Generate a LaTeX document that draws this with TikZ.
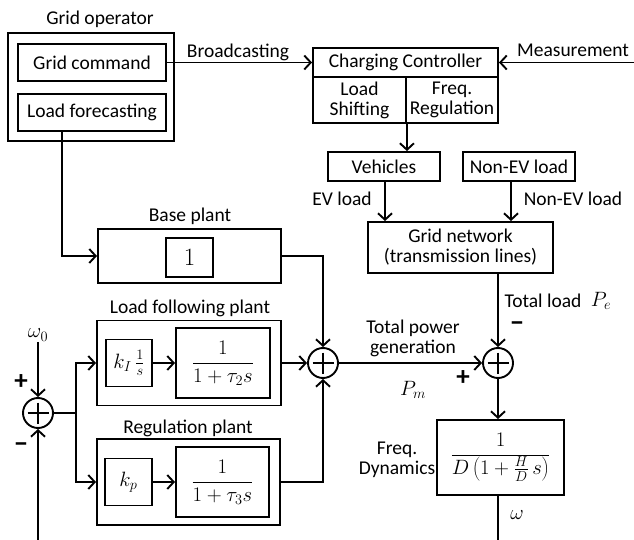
\documentclass[tikz,border=0pt]{standalone}
\usepackage[no-math]{fontspec}
\setmainfont{Carlito}
\usetikzlibrary{arrows.meta}
\newcommand\txtf{\fontsize{19.5}{20}\selectfont}
\newcommand\mthf{\fontsize{21}{24}\selectfont}
\newcommand\bigf{\fontsize{25}{28}\selectfont}
\begin{document}
\begin{tikzpicture}[x=1pt,y=-1pt,line width=1.9pt,
  >={Straight Barb[length=6.5pt,width=14pt]},
  box/.style={draw,inner sep=0pt,align=center,font=\txtf},
  lbl/.style={inner sep=0pt,align=center,font=\txtf},
  mlbl/.style={inner sep=0pt,font=\mthf},
  sgn/.style={inner sep=0pt,font=\fontsize{27}{27}\selectfont\bfseries},
  sumc/.style={draw,circle,minimum size=30pt,inner sep=0pt}]
\useasboundingbox (0,0) rectangle (634,540);
% grid operator
\node[lbl] (gopl) at (100,19) {Grid operator};
\node[box,minimum width=166pt,minimum height=108pt] (gop) at (91,87) {};
\node[box,minimum width=148pt,minimum height=37pt] (gcmd) at (92,62.5) {Grid command};
\node[box,minimum width=148pt,minimum height=37pt] (lfc) at (92,112.5) {Load forecasting};
% charging controller
\node[box,minimum width=185pt,minimum height=29pt] (cctop) at (405.5,62.5) {Charging Controller};
\node[box,minimum width=93pt,minimum height=46pt] (ccl) at (359.5,100) {Load\\Shifting};
\node[box,minimum width=92pt,minimum height=46pt] (ccr) at (452,100) {Freq.\\Regulation};
\node[lbl] (bc) at (238,52) {Broadcasting};
\node[lbl] (ms) at (573,50) {Measurement};
\coordinate (meas) at (634,62.5);
\draw[->] (gcmd.east) -- (cctop.west);
\draw[->] (meas) -- (cctop.east);
% vehicles
\node[box,minimum width=112pt,minimum height=29pt] (veh) at (384,166.5) {Vehicles};
\node[box,minimum width=112pt,minimum height=29pt] (nev) at (519,166.5) {Non-EV load};
\coordinate (ccout) at (ccl.south east);
\draw[->] (ccout) -- (ccout |- veh.north);
\node[box,minimum width=185pt,minimum height=51pt] (gn) at (460.5,247.5) {Grid network\\(transmission lines)};
\coordinate (vehout) at (385,181);
\coordinate (nevout) at (511,181);
\draw[->] (vehout) -- (vehout |- gn.north);
\draw[->] (nevout) -- (nevout |- gn.north);
\node[lbl] (evl) at (342,199) {EV load};
\node[lbl] (nevl) at (573,199) {Non-EV load};
% sums
\node[sumc] (s1) at (323,363) {};
\node[sumc] (s2) at (498,363) {};
\node[sumc] (s0) at (38,413) {};
\foreach \s in {s0,s1,s2}{
  \draw (\s.center) ++(-10.5,0) -- ++(21,0);
  \draw (\s.center) ++(0,-10.5) -- ++(0,21);
}
\draw[->] (s2 |- gn.south) -- (s2.north);
\node[lbl] (tl) at (543,301) {Total load};
\node[mlbl] (pe) at (601,301) {$P_e$};
\node[sgn] (mn2) at (517,327) {\textminus};
\draw[->] (s1.east) -- (s2.west);
\node[lbl] (tpg) at (413,338) {Total power\\generation};
\node[mlbl] (pm) at (413,390) {$P_m$};
\node[sgn] (pl2) at (463,378) {+};
% freq dynamics
\node[box,minimum width=127pt,minimum height=75pt,font=\mthf] (fd) at (500.5,457.5) {$\displaystyle\frac{1}{D\left(1+\frac{H}{D}\,s\right)}$};
\node[lbl] (fdl) at (397,460) {Freq.\\Dynamics};
\draw[->] (s2.south) -- (s2 |- fd.north);
\coordinate (wend) at (498,540);
\draw (s2 |- fd.south) -- (wend);
\node[mlbl] (om) at (517,515) {$\omega$};
% base plant
\node[lbl] (bpl) at (190,216) {Base plant};
\node[box,minimum width=183pt,minimum height=54pt] (base) at (189.5,256) {};
\node[box,minimum width=47pt,minimum height=39pt,font=\bigf] (one) at (189.5,257.5) {$1$};
\coordinate (lfcout) at (62,131);
\draw[->] (lfcout) |- (base.west);
\draw[->] (base.east) -| (s1.north);
% load following plant
\node[lbl] (lfl) at (190,308) {Load following plant};
\node[box,minimum width=184pt,minimum height=85pt] (lf) at (189,363) {};
\node[box,minimum width=46pt,minimum height=47pt,font=\mthf] (ki) at (129,363) {$k_I\,\frac{1}{s}$};
\node[box,minimum width=94pt,minimum height=70pt,font=\mthf] (f2) at (223,363) {$\displaystyle\frac{1}{1+\tau_2 s}$};
\draw[->] (ki.east) -- (f2.west);
\draw[->] (lf.east) -- (s1.west);
% regulation plant
\node[lbl] (rpl) at (188,428) {Regulation plant};
\node[box,minimum width=183pt,minimum height=86pt] (reg) at (188.5,482) {};
\node[box,minimum width=47pt,minimum height=47pt,font=\mthf] (kp) at (128.5,482) {$k_p$};
\node[box,minimum width=93pt,minimum height=70pt,font=\mthf] (f3) at (222.5,482) {$\displaystyle\frac{1}{1+\tau_3 s}$};
\draw[->] (kp.east) -- (f3.west);
\draw[->] (reg.east) -| (s1.south);
% left loop
\node[mlbl] (w0) at (38,335) {$\omega_0$};
\draw[->] (w0.south) -- (s0.north);
\coordinate (fb) at (38,540);
\draw[->] (fb) -- (s0.south);
\node[sgn] (pl0) at (21,382) {+};
\node[sgn] (mn0) at (21,448) {\textminus};
\coordinate (br) at (76,413);
\draw (s0.east) -- (br);
\draw[->] (br) |- (lf.west);
\draw[->] (br) |- (reg.west);
\end{tikzpicture}
\end{document}
